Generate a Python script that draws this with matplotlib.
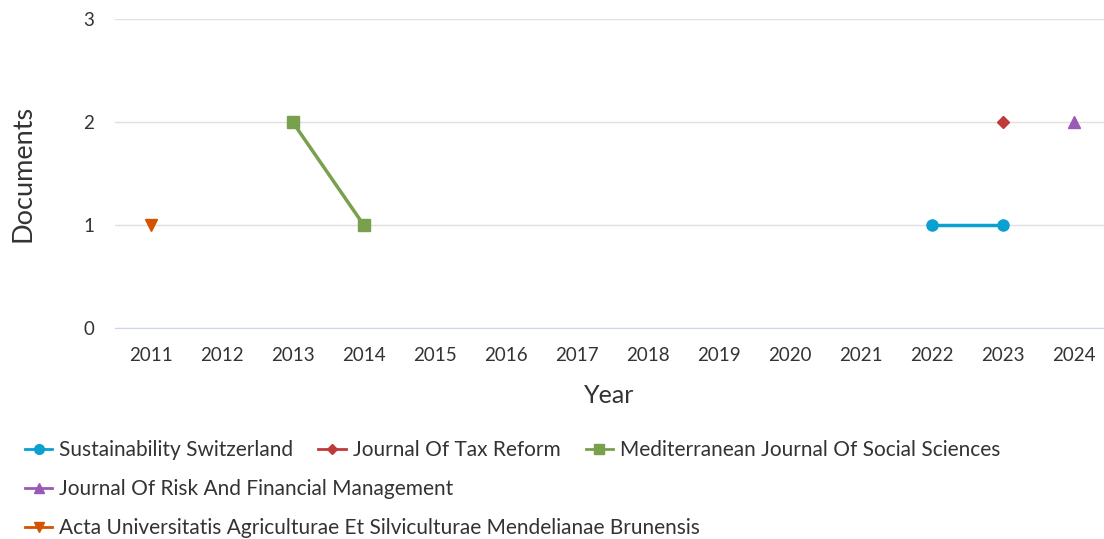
import numpy as np
import matplotlib.pyplot as plt
from matplotlib.lines import Line2D

plt.rcParams['font.family'] = ['Lato', 'DejaVu Sans']

years = list(range(2011, 2025))
nan = np.nan

# documents per year for each source
sust_switz = [nan]*11 + [1, 1, nan]
tax_reform = [nan]*12 + [2, nan]
med_social = [nan, nan, 2, 1] + [nan]*10
risk_fin = [nan]*13 + [2]
acta_brun = [1] + [nan]*13

series = [
    ("Sustainability Switzerland", sust_switz, '#0aa0d2', 'o', 8),
    ("Journal Of Tax Reform", tax_reform, '#c0393b', 'D', 6),
    ("Mediterranean Journal Of Social Sciences", med_social, '#78a04d', 's', 8),
    ("Journal Of Risk And Financial Management", risk_fin, '#9b59b6', '^', 8),
    ("Acta Universitatis Agriculturae Et Silviculturae Mendelianae Brunensis", acta_brun, '#d35400', 'v', 8),
]

fig = plt.figure(figsize=(11.04, 5.39), dpi=100)
ax = fig.add_axes([0.1042, 0.3915, 0.8958, 0.5732])

handles = []
for name, vals, col, mk, ms in series:
    ax.plot(years, vals, color=col, marker=mk, markersize=ms, linewidth=2.5)
    handles.append(Line2D([0], [0], color=col, marker=mk, markersize=ms - 1,
                          linewidth=2, label=name))

ax.set_xlim(2010.5, 2024.42)
ax.set_ylim(0, 3)
ax.set_xticks(years)
ax.set_yticks([0, 1, 2, 3])
ax.grid(axis='y', color='#e0e0e0', linewidth=1)
ax.set_axisbelow(True)
for s in ['top', 'right', 'left']:
    ax.spines[s].set_visible(False)
ax.spines['bottom'].set_color('#ccd6eb')
ax.tick_params(axis='both', length=0, labelsize=13.5, colors='#333333')
ax.tick_params(axis='x', pad=14)
ax.tick_params(axis='y', pad=15)
ax.set_xlabel("Year", fontsize=18, color='#333333', labelpad=14)
ax.set_ylabel("Documents", fontsize=19.5, color='#333333', labelpad=34)

rows = [handles[0:3], handles[3:4], handles[4:5]]
ys = [450, 489, 528]
for hs, y in zip(rows, ys):
    leg = fig.legend(handles=hs, loc='center left', bbox_to_anchor=(25 / 1104, 1 - y / 539),
                     ncol=len(hs), frameon=False, fontsize=15, handlelength=1.3,
                     handletextpad=0.35, columnspacing=1.2, borderaxespad=0, borderpad=0)
    for t in leg.get_texts():
        t.set_color('#333333')

fig.savefig("out.png", dpi=100)
